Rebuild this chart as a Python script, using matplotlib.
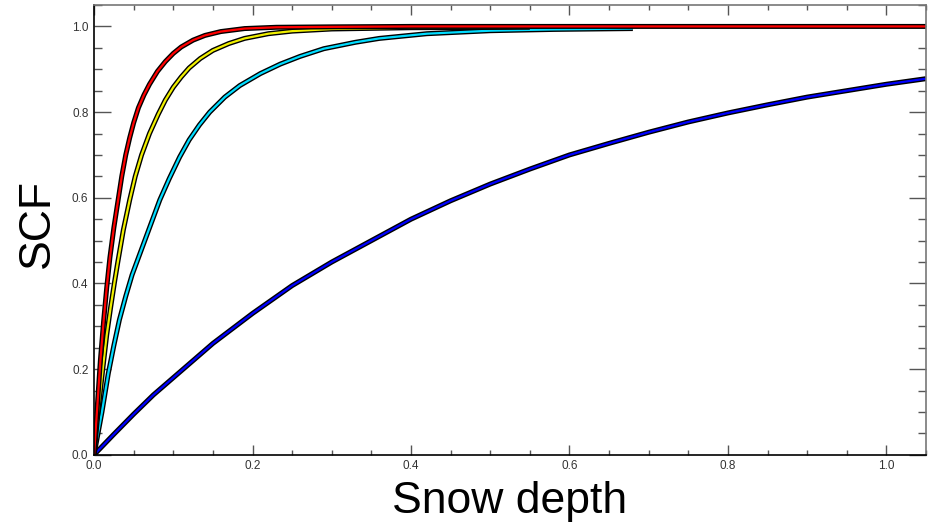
import numpy as np
import matplotlib
matplotlib.use("Agg")
import matplotlib.pyplot as plt
from matplotlib.ticker import MultipleLocator

# values
redX = [0, 0.004, 0.008, 0.012, 0.016, 0.02, 0.025, 0.03, 0.035, 0.04, 0.045, 0.05, 0.056, 0.063,
        0.07, 0.08, 0.09, 0.1, 0.11, 0.125, 0.14, 0.16, 0.19, 0.23, 0.3, 0.4, 0.6, 0.8, 1.05]
redY = [0, 0.11, 0.22, 0.31, 0.39, 0.46, 0.53, 0.59, 0.65, 0.70, 0.74, 0.775, 0.81, 0.84,
        0.865, 0.895, 0.918, 0.937, 0.952, 0.968, 0.979, 0.988, 0.995, 0.998, 0.999, 1.0, 1.0, 1.0, 1.0]

yellowX = [0, 0.005, 0.011, 0.016, 0.021, 0.026, 0.03, 0.037, 0.045, 0.052, 0.06, 0.07, 0.081,
           0.09, 0.1, 0.11, 0.12, 0.134, 0.15, 0.17, 0.19, 0.22, 0.25, 0.3, 0.4, 0.55]
yellowY = [0, 0.10, 0.20, 0.28, 0.345, 0.405, 0.45, 0.525, 0.595, 0.65, 0.70, 0.75, 0.795,
           0.828, 0.858, 0.882, 0.903, 0.925, 0.944, 0.96, 0.972, 0.983, 0.989, 0.994, 0.997, 0.998]

cyanX = [0, 0.005, 0.01, 0.018, 0.025, 0.032, 0.04, 0.048, 0.058, 0.066, 0.075, 0.083, 0.095,
         0.108, 0.12, 0.133, 0.146, 0.165, 0.184, 0.21, 0.235, 0.26, 0.29, 0.33, 0.36, 0.42,
         0.5, 0.58, 0.68]
cyanY = [0, 0.05, 0.10, 0.19, 0.255, 0.315, 0.37, 0.42, 0.47, 0.51, 0.555, 0.595, 0.645,
         0.695, 0.735, 0.77, 0.80, 0.835, 0.862, 0.89, 0.912, 0.93, 0.948, 0.963, 0.972, 0.983,
         0.99, 0.993, 0.995]

blueX = [0, 0.025, 0.05, 0.075, 0.1, 0.15, 0.2, 0.25, 0.3, 0.35, 0.4, 0.45, 0.5, 0.55, 0.6,
         0.65, 0.7, 0.75, 0.8, 0.85, 0.9, 0.95, 1.0, 1.05]
blueY = [0, 0.048, 0.095, 0.14, 0.18, 0.26, 0.33, 0.395, 0.45, 0.50, 0.55, 0.593, 0.632, 0.667,
         0.70, 0.727, 0.753, 0.777, 0.798, 0.817, 0.835, 0.85, 0.865, 0.878]

curves = [
    (blueX, blueY, '#0000ff'),
    (cyanX, cyanY, '#00dcff'),
    (yellowX, yellowY, '#f0f000'),
    (redX, redY, '#ff0000'),
]

xTicks = [0.0, 0.2, 0.4, 0.6, 0.8, 1.0]
yTicks = [0.0, 0.2, 0.4, 0.6, 0.8, 1.0]

plt.rcParams['font.family'] = ['Liberation Sans', 'DejaVu Sans']

fig = plt.figure(figsize=(9.32, 5.32), dpi=100)
ax = fig.add_axes([0.1009, 0.1451, 0.8927, 0.8455])

for xs, ys, col in curves:
    ax.plot(xs, ys, color='black', lw=3.6, solid_capstyle='butt', solid_joinstyle='round')
    ax.plot(xs, ys, color=col, lw=1.6, solid_capstyle='butt', solid_joinstyle='round')

ax.set_xlim(0, 1.05)
ax.set_ylim(0, 1.05)
ax.set_xticks(xTicks)
ax.set_yticks(yTicks)
ax.set_xticklabels([f'{v:.1f}' for v in xTicks])
ax.set_yticklabels([f'{v:.1f}' for v in yTicks])
ax.xaxis.set_minor_locator(MultipleLocator(0.05))
ax.yaxis.set_minor_locator(MultipleLocator(0.05))

ax.tick_params(axis='both', which='both', direction='in', top=True, right=True,
               color='#555555', labelsize=8.5, labelcolor='#333333')
ax.tick_params(axis='x', which='major', length=7, width=1, pad=4)
ax.tick_params(axis='x', which='minor', length=3.6, width=1)
ax.tick_params(axis='y', which='major', length=12, width=1, pad=4)
ax.tick_params(axis='y', which='minor', length=6, width=1)

for side in ['left', 'bottom']:
    ax.spines[side].set_color('black')
    ax.spines[side].set_linewidth(1.2)
for side in ['top', 'right']:
    ax.spines[side].set_color('#777777')
    ax.spines[side].set_linewidth(1.2)

ax.set_xlabel('Snow depth', fontsize=32, labelpad=6)
ax.set_ylabel('SCF', fontsize=32, labelpad=8)
ax.yaxis.set_label_coords(-0.043, 0.515)

fig.savefig('out.png', dpi=100)
